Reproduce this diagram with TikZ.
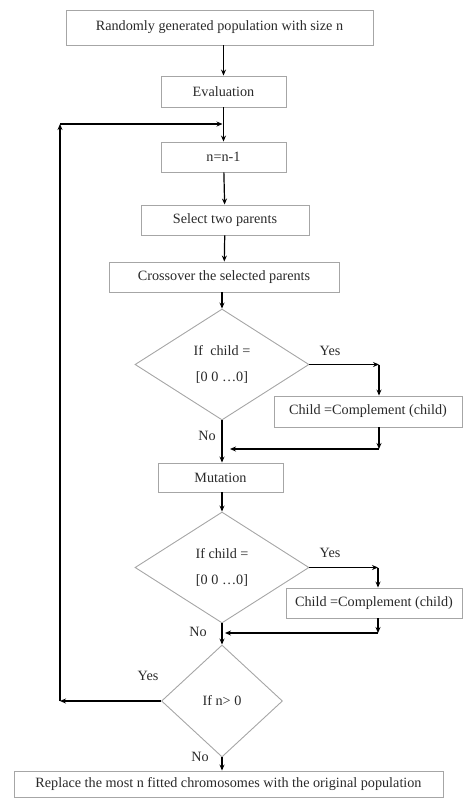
\documentclass[tikz,border=0pt]{standalone}
\usepackage{fontspec}
\setmainfont{Liberation Serif}
\usetikzlibrary{shapes.geometric,arrows.meta}
\definecolor{edgegray}{HTML}{A6A6A6}
\definecolor{txt}{HTML}{2A2A2A}
\begin{document}
\begin{tikzpicture}[x=1pt,y=-1pt,
  box/.style={draw=edgegray,line width=0.9pt,fill=white,inner sep=0pt,text=txt,
    font=\fontsize{14.2}{16}\selectfont},
  decision/.style={diamond,draw=edgegray,line width=0.9pt,inner sep=0pt,text=txt,
    align=center,font=\fontsize{14.2}{16}\selectfont},
  lbl/.style={text=txt,font=\fontsize{14.2}{16}\selectfont,inner sep=0pt},
  arr/.style={line width=1.2pt,-{Stealth[length=6pt,width=5pt]}}]
\useasboundingbox (0,0) rectangle (464,798);

% process boxes
\node[box,minimum width=307,minimum height=35] (top) at (219.5,27.5) {Randomly generated population with size n};
\node[box,minimum width=125,minimum height=31] (eval) at (223.5,91.5) {Evaluation};
\node[box,minimum width=125,minimum height=30] (dec) at (223.5,157) {n=n-1};
\node[box,minimum width=168,minimum height=30] (sel) at (225,220) {Select two parents};
\node[box,minimum width=230,minimum height=30] (cross) at (224,277) {Crossover the selected parents};
\node[decision,minimum width=174,minimum height=111] (d1) at (222,364.5) {If\ \ child =\\[10pt][0 0 \ldots0]};
\node[box,minimum width=188,minimum height=31] (c1) at (368,411.5) {Child =Complement (child)};
\node[box,minimum width=125,minimum height=29] (mut) at (220.5,477.5) {Mutation};
\node[decision,minimum width=174,minimum height=111] (d2) at (222,567.5) {If child =\\[10pt][0 0 \ldots0]};
\node[box,minimum width=176,minimum height=30] (c2) at (374,603) {Child =Complement (child)};
\node[decision,minimum width=121,minimum height=112] (d3) at (222,701) {If n> 0};
\node[box,minimum width=429,minimum height=26] (fin) at (228.5,784) {Replace the most n fitted chromosomes with the original population};

% branch labels
\node[lbl] (yes1) at (330,351) {Yes};
\node[lbl] (no1) at (207,436) {No};
\node[lbl] (yes2) at (330,553) {Yes};
\node[lbl] (no2) at (198,632) {No};
\node[lbl] (yes3) at (148,676) {Yes};
\node[lbl] (no3) at (200,757) {No};

% bend points
\coordinate (y1) at (379,364.5);
\coordinate (r1) at (379,449);
\coordinate (r1e) at (230,449);
\coordinate (y2) at (378,567.5);
\coordinate (r2) at (378,633);
\coordinate (r2e) at (225,633);
\coordinate (lb) at (60,701);
\coordinate (lt) at (60,124);
\coordinate (lj) at (222.5,124);

% main flow
\draw[arr] (eval.north |- top.south) -- (eval.north);
\draw[arr] (eval) -- (dec);
\draw[arr] (dec) -- (sel);
\draw[arr] (sel) -- (cross);
\draw[arr] (cross.south -| d1) -- (d1.north);
\draw[arr] (d1.south) -- (d1.south |- mut.north);
\draw[arr] (mut.south -| d2) -- (d2.north);
\draw[arr] (d2) -- (d3);
\draw[arr] (d3.south) -- (d3.south |- fin.north);

% first complement branch
\draw[arr] (d1.east) -- (y1);
\draw[arr] (y1) -- (y1 |- c1.north);
\draw[arr] (y1 |- c1.south) -- (r1);
\draw[arr] (r1) -- (r1e);

% second complement branch
\draw[arr] (d2.east) -- (y2);
\draw[arr] (y2) -- (y2 |- c2.north);
\draw[arr] (y2 |- c2.south) -- (r2);
\draw[arr] (r2) -- (r2e);

% loop back
\draw[arr] (d3.west) -- (lb);
\draw[arr] (lb) -- (lt);
\draw[arr] (lt) -- (lj);
\end{tikzpicture}
\end{document}
